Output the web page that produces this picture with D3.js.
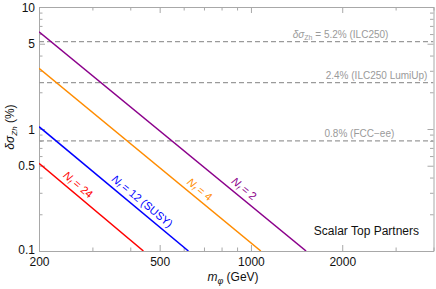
<!DOCTYPE html>
<html><head><meta charset="utf-8">
<script src="https://cdn.jsdelivr.net/npm/d3@7"></script>
<style>body{margin:0;background:#fff}svg{display:block}text{font-family:"Liberation Sans",Arial,sans-serif}</style>
</head><body>
<svg id="c" width="436" height="289"></svg>
<script>
// ---- data ----
const xDomain = [200, 4000];
const yDomain = [0.1, 10];
const xTickLabels = [200, 500, 1000, 2000];
const yTickLabels = [0.1, 0.5, 1, 5, 10];
const seriesNames = ["2", "4", "12 (SUSY)", "24"];
const seriesColors = ["#8b008b", "#ff8c00", "#0000ff", "#ff0000"];
const nf2 = [[200, 6.27], [1520, 0.1]];
const nf4 = [[200, 3.14], [1078, 0.1]];
const nf12 = [[200, 1.045], [622, 0.1]];
const nf24 = [[200, 0.523], [442, 0.1]];
const seriesLabelMass = [910, 650, 420, 258];
const refValues = [5.2, 2.4, 0.8];
const refLabels = ["= 5.2% (ILC250)", "2.4% (ILC250 LumiUp)", "0.8% (FCC\u2212ee)"];
const refLabelMass = [2840, 3820, 2970];

const series = [nf2, nf4, nf12, nf24];

const svg = d3.select("#c");
const L = 39, R = 433.5, T = 7, B = 251;
const x = d3.scaleLog().domain(xDomain).range([L, R]);
const y = d3.scaleLog().domain(yDomain).range([B, T]);

svg.append("clipPath").attr("id", "clip").append("rect")
  .attr("x", L).attr("y", T).attr("width", R - L).attr("height", B - T);

// minor/major ticks
const xTicks = [];
for (let v = 200; v <= 1000; v += 100) xTicks.push(v);
xTicks.push(2000, 3000, 4000);
const yTicks = [];
for (let v = 1; v <= 10; v++) yTicks.push(v / 10);
for (let v = 2; v <= 10; v++) yTicks.push(v);

const frameColor = "#a8a8a8";
const g = svg.append("g");
// bottom axis
const xAxis = d3.axisBottom(x).tickValues(xTicks).tickSizeInner(-4).tickSizeOuter(0)
  .tickFormat(d => xTickLabels.includes(d) ? d : "");
const gx = g.append("g").attr("transform", `translate(0,${B})`).call(xAxis);
gx.selectAll(".tick line").attr("y2", d => xTickLabels.includes(d) ? -6 : -3.5);
const gxt = g.append("g").attr("transform", `translate(0,${T})`).call(d3.axisTop(x).tickValues(xTicks).tickSizeInner(-3.5).tickSizeOuter(0).tickFormat(""));
gxt.selectAll(".tick line").attr("y2", d => xTickLabels.includes(d) ? 6 : 3.5);
const yAxis = d3.axisLeft(y).tickValues(yTicks).tickSizeInner(-4).tickSizeOuter(0)
  .tickFormat(d => yTickLabels.some(v => Math.abs(v - d) < 1e-9) ? d : "");
const gy = g.append("g").attr("transform", `translate(${L},0)`).call(yAxis);
gy.selectAll(".tick line").attr("x2", d => yTickLabels.some(v => Math.abs(v - d) < 1e-9) ? 6 : 3.5);
const gyr = g.append("g").attr("transform", `translate(${R},0)`).call(d3.axisRight(y).tickValues(yTicks).tickSizeInner(-3.5).tickSizeOuter(0).tickFormat(""));
gyr.selectAll(".tick line").attr("x2", d => yTickLabels.some(v => Math.abs(v - d) < 1e-9) ? -6 : -3.5);

svg.selectAll(".domain").attr("stroke", frameColor).attr("stroke-width", 1);
svg.selectAll(".tick line").attr("stroke", frameColor);
gx.selectAll("text").attr("font-size", 12).attr("fill", "#111").attr("dy", null).attr("y", 15);
gy.selectAll("text").attr("font-size", 12).attr("fill", "#111").attr("x", -4).attr("dy", "0.35em");
gy.selectAll(".tick text").filter(d => Math.abs(d - 0.1) < 1e-9).attr("dy", "0.2em");
svg.selectAll(".tick text").attr("font-family", "Liberation Sans, Arial, sans-serif");

// reference dashed lines
const plot = svg.append("g").attr("clip-path", "url(#clip)");
plot.selectAll(".ref").data(refValues).join("line")
  .attr("x1", L).attr("x2", R).attr("y1", d => y(d)).attr("y2", d => y(d))
  .attr("stroke", "#9a9a9a").attr("stroke-width", 1.3).attr("stroke-dasharray", "5,3");

// ref labels
refLabels.forEach((t, i) => {
  const tx = svg.append("text").attr("x", x(refLabelMass[i])).attr("y", y(refValues[i]) - 4)
    .attr("text-anchor", "end").attr("font-size", 10).attr("fill", "#9a9a9a");
  if (i === 0) {
    tx.append("tspan").attr("font-style", "italic").text("\u03B4\u03C3");
    tx.append("tspan").attr("font-size", 7).attr("dy", 2).text("Zh");
    tx.append("tspan").attr("dy", -2).text(" " + t);
  } else tx.text(t);
});

// series lines
const line = d3.line().x(d => x(d[0])).y(d => y(d[1]));
plot.selectAll(".s").data(series).join("path")
  .attr("d", line).attr("fill", "none")
  .attr("stroke", (d, i) => seriesColors[i]).attr("stroke-width", 1.5);

// series labels
series.forEach((s, i) => {
  const m = seriesLabelMass[i];
  const [p0, p1] = s;
  const slope = (Math.log(p1[1]) - Math.log(p0[1])) / (Math.log(p1[0]) - Math.log(p0[0]));
  const val = Math.exp(Math.log(p0[1]) + slope * (Math.log(m) - Math.log(p0[0])));
  const px = x(m), py = y(val);
  const ang = Math.atan2(y(p1[1]) - y(p0[1]), x(p1[0]) - x(p0[0])) * 180 / Math.PI;
  const t = svg.append("text")
    .attr("transform", `translate(${px},${py}) rotate(${ang}) translate(0,-5)`)
    .attr("text-anchor", "middle").attr("font-size", 11).attr("fill", seriesColors[i]);
  t.append("tspan").attr("font-style", "italic").text("N");
  t.append("tspan").attr("font-size", 7).attr("dy", 2).attr("font-style", "italic").text("f");
  t.append("tspan").attr("dy", -2).text(" = " + seriesNames[i]);
});

// annotation
svg.append("text").attr("x", 419).attr("y", 235).attr("text-anchor", "end")
  .attr("font-size", 12).attr("fill", "#111").text("Scalar Top Partners");

// axis titles
const xt = svg.append("text").attr("x", 233).attr("y", 281).attr("text-anchor", "middle")
  .attr("font-size", 12).attr("fill", "#111");
xt.append("tspan").attr("font-style", "italic").text("m");
xt.append("tspan").attr("font-size", 9).attr("dy", 3).attr("font-style", "italic").text("\u03C6");
xt.append("tspan").attr("dy", -3).text(" (GeV)");

const yt = svg.append("text").attr("transform", "translate(14,127) rotate(-90)")
  .attr("text-anchor", "middle").attr("font-size", 12).attr("fill", "#111");
yt.append("tspan").attr("font-style", "italic").text("\u03B4\u03C3");
yt.append("tspan").attr("font-size", 8).attr("dy", 3).attr("font-style", "italic").text("Zh");
yt.append("tspan").attr("dy", -3).text(" (%)");
</script>
</body></html>
